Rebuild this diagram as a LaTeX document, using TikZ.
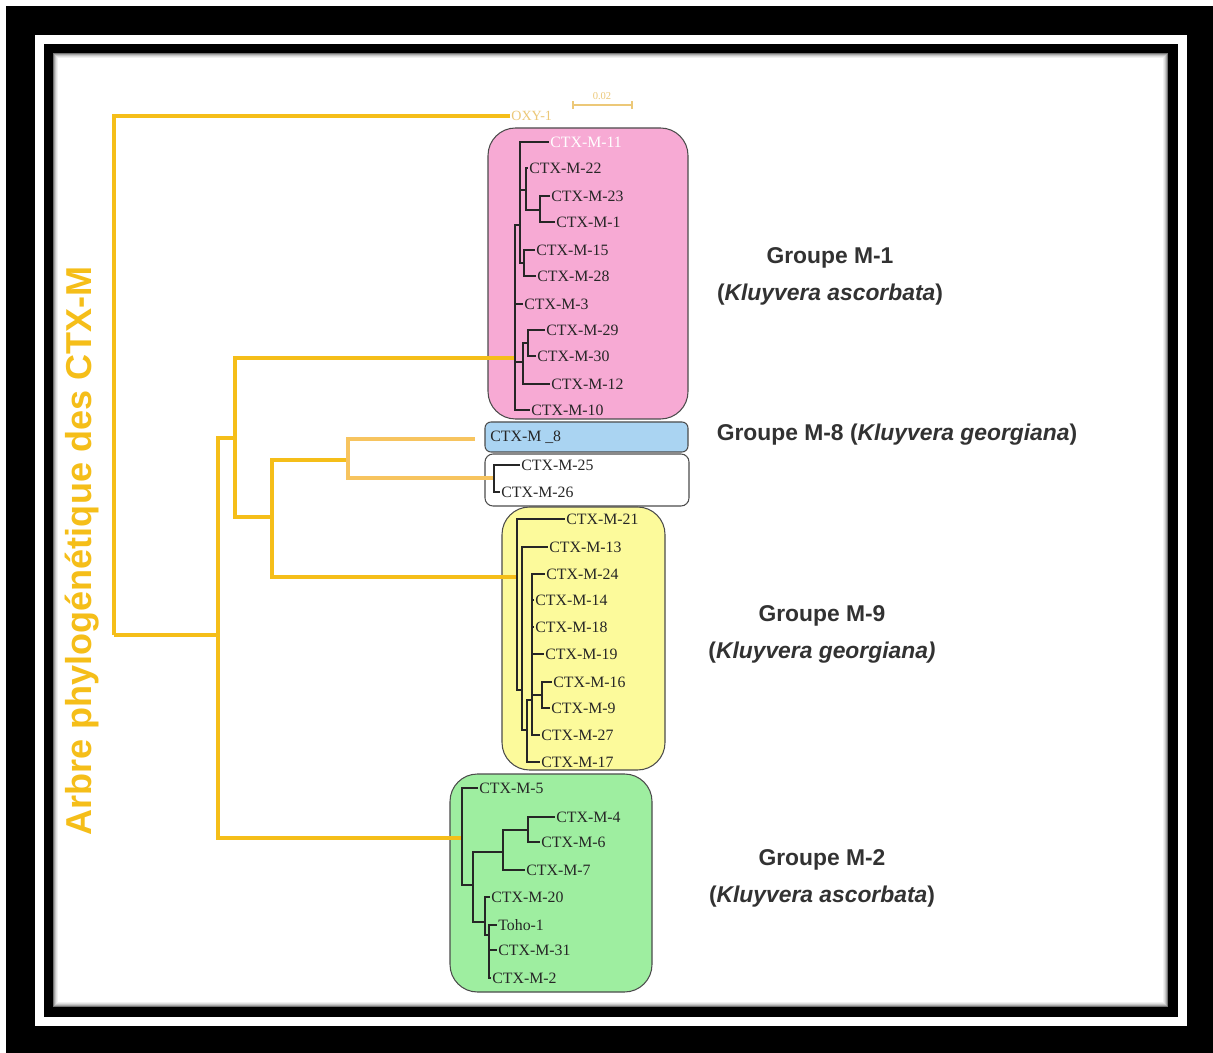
\documentclass[tikz,border=0pt]{standalone}
\usepackage{fontspec}
\setmainfont{Liberation Serif}
\newfontfamily\grpfont{Liberation Sans}
\definecolor{treegold}{RGB}{245,190,25}
\definecolor{palegold}{RGB}{247,196,95}
\definecolor{faintgold}{RGB}{236,200,120}
\definecolor{boxpink}{RGB}{247,170,212}
\definecolor{boxblue}{RGB}{170,212,242}
\definecolor{boxyellow}{RGB}{252,250,155}
\definecolor{boxgreen}{RGB}{158,238,160}
\definecolor{grptext}{RGB}{50,50,50}
\tikzset{
  leaf/.style={anchor=west, inner sep=0.6pt, font=\fontsize{9}{10}\selectfont, text=black!85},
  twig/.style={line width=0.75pt, black!85},
  gbranch/.style={line width=2.3pt, treegold},
  pbranch/.style={line width=2.1pt, palegold},
  clade/.style={draw=black!70, line width=0.6pt},
  grp/.style={align=center, text=grptext, font=\grpfont\bfseries\fontsize{13}{21}\selectfont},
}
\begin{document}
\begin{tikzpicture}[x=0.02cm, y=-0.02cm]
\useasboundingbox (0,0) rectangle (1213,1053);
% frame
\fill[white] (0,0) rectangle (1213,1053);
\fill[black] (6,6) rectangle (1213,1053);
\fill[white] (35,35) rectangle (1187,1026);
\fill[black] (44,44) rectangle (1178,1017);
\fill[white] (53,53) rectangle (1168,1007);
\foreach \i/\s in {0/55,1/35,2/22,3/12,4/6}
  \draw[black!\s, line width=0.02cm] ({53.5+\i},{53.5+\i}) rectangle ({1167.5-\i},{1006.5-\i});
% group boxes
\draw[clade, fill=boxpink, rounded corners=0.55cm] (488,128) rectangle (688,419);
\draw[clade, fill=boxblue, rounded corners=0.12cm] (485,422) rectangle (688,452);
\draw[clade, fill=white, rounded corners=0.16cm] (485,454) rectangle (689,506);
\draw[clade, fill=boxyellow, rounded corners=0.55cm] (502,507) rectangle (665,770);
\draw[clade, fill=boxgreen, rounded corners=0.55cm] (450,774) rectangle (652,992);
% leaves
\foreach \n/\x/\y/\t in {m22/528/168/CTX-M-22, m23/550/196/CTX-M-23, m1/555/222/CTX-M-1,
  m15/535/250/CTX-M-15, m28/536/276/CTX-M-28, m3/523/304/CTX-M-3, m29/545/330/CTX-M-29,
  m30/536/356/CTX-M-30, m12/550/384/CTX-M-12, m10/530/410/CTX-M-10, m8/489/437/CTX-M \_8,
  m25/520/465/CTX-M-25, m26/500/492/CTX-M-26, m21/565/519/CTX-M-21, m13/548/547/CTX-M-13,
  m24/545/574/CTX-M-24, m14/534/600/CTX-M-14, m18/534/627/CTX-M-18, m19/544/654/CTX-M-19,
  m16/552/682/CTX-M-16, m9/550/708/CTX-M-9, m27/540/735/CTX-M-27, m17/540/762/CTX-M-17,
  m5/478/788/CTX-M-5, m4/555/817/CTX-M-4, m6/540/842/CTX-M-6, m7/525/870/CTX-M-7,
  m20/490/897/CTX-M-20, toho/497/925/Toho-1, m31/497/950/CTX-M-31, m2/491/978/CTX-M-2}
  \node[leaf] (\n) at (\x,\y) {\t};
\node[leaf, text=white] (m11) at (549,142) {CTX-M-11};
\node[leaf, text=faintgold, font=\fontsize{8}{9}\selectfont] (oxy) at (510,116) {OXY-1};
% inner nodes
\coordinate (p0) at (515,358);
\coordinate (p1) at (520,225);
\coordinate (p2) at (526,190);
\coordinate (p3) at (524,263);
\coordinate (p4) at (540,210);
\coordinate (p5) at (523,362);
\coordinate (p6) at (528,343);
\coordinate (w0) at (494,478);
\coordinate (y0) at (517,577);
\coordinate (y1) at (522,690);
\coordinate (y2) at (527,730);
\coordinate (y3) at (532,700);
\coordinate (y4) at (542,695);
\coordinate (g0) at (462,838);
\coordinate (g1) at (473,885);
\coordinate (g2) at (503,852);
\coordinate (g3) at (528,830);
\coordinate (g4) at (485,922);
\coordinate (g5) at (489,935);
\coordinate (r0) at (114,635);
\coordinate (r1) at (218,635);
\coordinate (r2) at (235,438);
\coordinate (r3) at (272,517);
\coordinate (r4) at (348,460);
\coordinate (m8tip) at (475,439);
% backbone
\draw[gbranch] (r0) |- (oxy.west) (r0) -- (r1);
\draw[gbranch] (r1) |- (r2) (r1) |- (g0);
\draw[gbranch] (r2) |- (p0) (r2) |- (r3);
\draw[gbranch] (r3) |- (r4) (r3) |- (y0);
\draw[pbranch] (r4) |- (m8tip) (r4) |- (w0);
% groupe M-1
\draw[twig] (p0) |- (p1) (p0) |- (m3.west) (p0) |- (p5) (p0) |- (m10.west);
\draw[twig] (p1) |- (m11.west) (p1) |- (p2) (p1) |- (p3);
\draw[twig] (p2) |- (m22.west) (p2) |- (p4);
\draw[twig] (p4) |- (m23.west) (p4) |- (m1.west);
\draw[twig] (p3) |- (m15.west) (p3) |- (m28.west);
\draw[twig] (p5) |- (p6) (p5) |- (m12.west);
\draw[twig] (p6) |- (m29.west) (p6) |- (m30.west);
% CTX-M-25 / CTX-M-26
\draw[twig] (w0) |- (m25.west) (w0) |- (m26.west);
% groupe M-9
\draw[twig] (y0) |- (m21.west) (y0) |- (y1);
\draw[twig] (y1) |- (m13.west) (y1) |- (y2);
\draw[twig] (y2) |- (y3) (y2) |- (m17.west);
\draw[twig] (y3) |- (m24.west) (y3) |- (m14.west) (y3) |- (m18.west) (y3) |- (m19.west)
  (y3) |- (y4) (y3) |- (m27.west);
\draw[twig] (y4) |- (m16.west) (y4) |- (m9.west);
% groupe M-2
\draw[twig] (g0) |- (m5.west) (g0) |- (g1);
\draw[twig] (g1) |- (g2) (g1) |- (g4);
\draw[twig] (g2) |- (g3) (g2) |- (m7.west);
\draw[twig] (g3) |- (m4.west) (g3) |- (m6.west);
\draw[twig] (g4) |- (m20.west) (g4) |- (g5);
\draw[twig] (g5) |- (toho.west) (g5) |- (m31.west) (g5) |- (m2.west);
% scale bar
\coordinate (sbl) at (573,105);
\coordinate (sbr) at (632,105);
\draw[faintgold, line width=0.6pt] (sbl) -- (sbr) ([yshift=2pt]sbl) -- ([yshift=-2pt]sbl) ([yshift=2pt]sbr) -- ([yshift=-2pt]sbr);
\node[text=faintgold, font=\fontsize{6}{7}\selectfont, inner sep=1pt] (sblabel) at (602,96) {0.02};
% labels
\node[rotate=90, text=treegold, font=\grpfont\bfseries\fontsize{20.5}{24}\selectfont] (title) at (82,551) {Arbre phylogénétique des CTX-M};
\node[grp] (grpM1) at (830,276) {Groupe M-1\\(\textit{Kluyvera ascorbata})};
\node[grp] (grpM8) at (897,435) {Groupe M-8 (\textit{Kluyvera georgiana})};
\node[grp] (grpM9) at (822,634) {Groupe M-9\\(\textit{Kluyvera georgiana)}};
\node[grp] (grpM2) at (822,878) {Groupe M-2\\(\textit{Kluyvera ascorbata})};
\end{tikzpicture}
\end{document}
